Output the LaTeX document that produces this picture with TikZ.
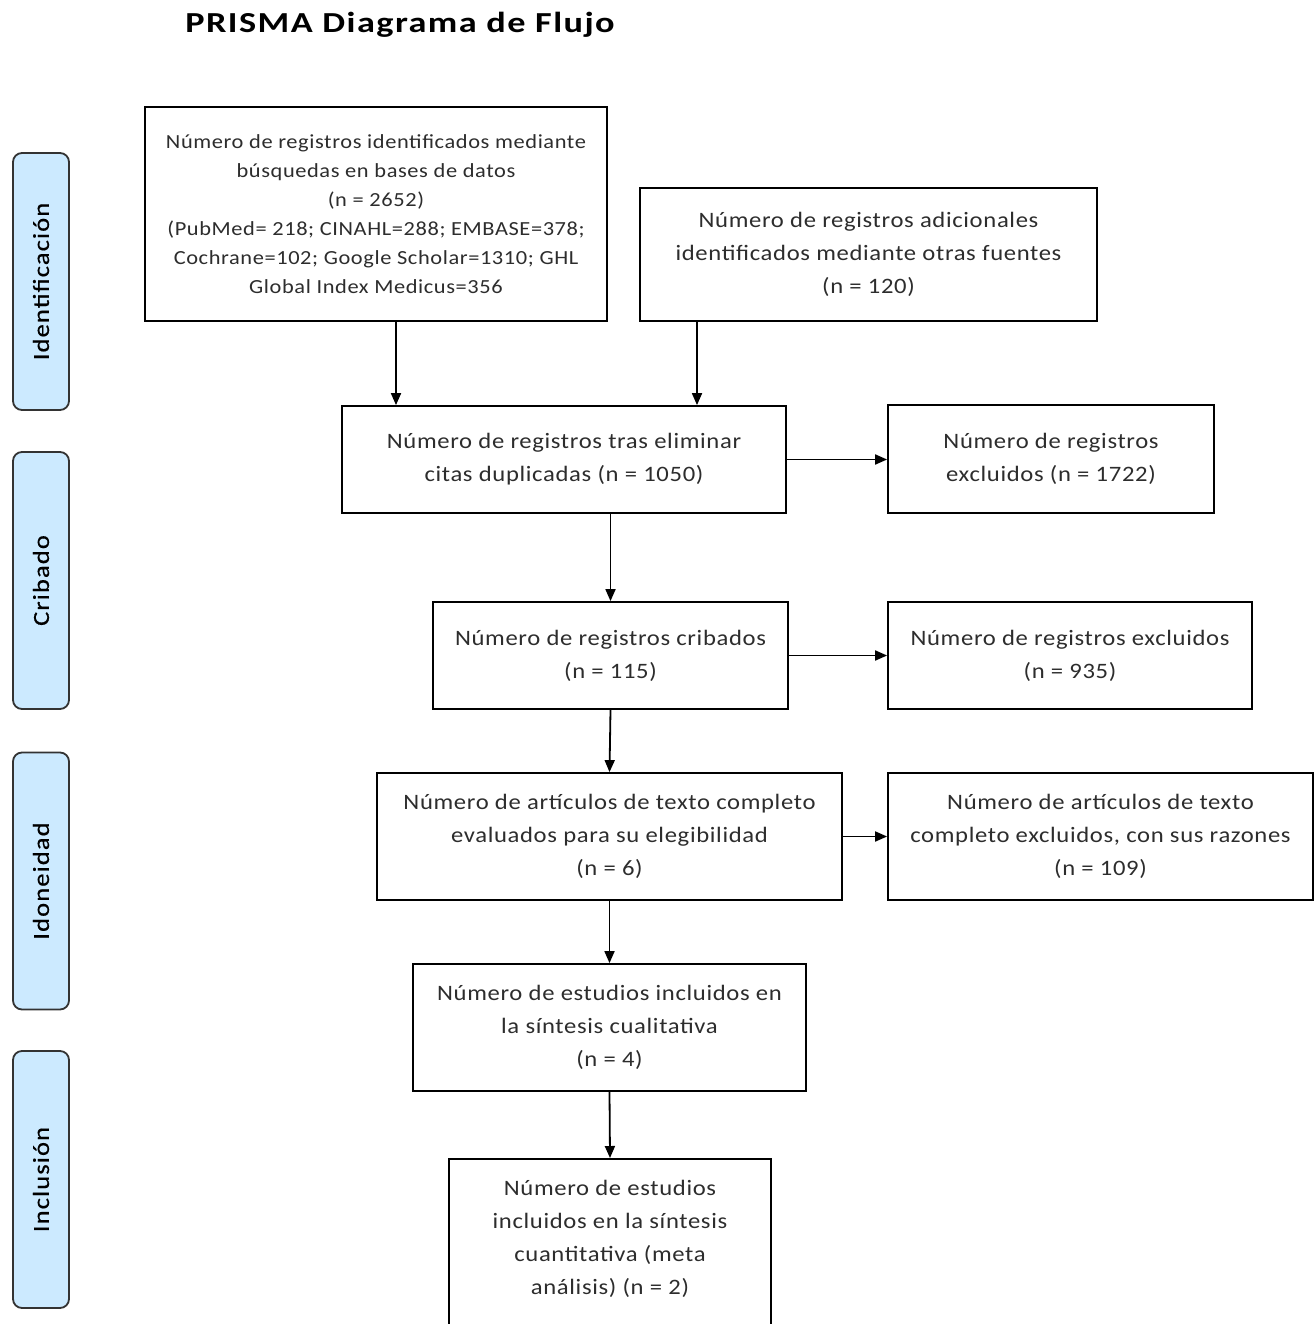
\documentclass[tikz,border=0pt]{standalone}
\usepackage{fontspec}
\setmainfont{Carlito}
\newfontfamily\bodyfont[FakeStretch=1.12,LetterSpace=3]{Carlito}
\newfontfamily\titlefont[FakeStretch=1.25,LetterSpace=5]{Carlito}
\newfontfamily\phasefont[FakeStretch=1.15,LetterSpace=5,FakeBold=0.6]{Carlito}
\usetikzlibrary{arrows.meta}
\definecolor{phaseblue}{RGB}{204,234,255}
\definecolor{txt}{RGB}{45,45,45}
\begin{document}
\begin{tikzpicture}[x=1pt,y=-1pt,
 box/.style={draw=black, line width=1.8pt, align=center, inner sep=0pt, text=txt,
   font=\bodyfont\fontsize{22}{33}\selectfont},
 phase/.style={draw=black!80, line width=1.8pt, fill=phaseblue, rounded corners=9pt,
   minimum width=257pt, minimum height=56pt, inner sep=0pt, rotate=90,
   font=\phasefont\fontsize{23}{26}\selectfont, text=black},
 conn/.style={line width=1.8pt, -{Triangle[length=12pt,width=10pt]}}]
\clip (0,0) rectangle (1314,1324);
\fill[white] (0,0) rectangle (1314,1324);

\node[font=\titlefont\fontsize{29}{34}\selectfont\bfseries, text=black] (title) at (400,25) {PRISMA Diagrama de Flujo};

\node[phase] (p1) at (41,281.5) {Identificación};
\node[phase] (p2) at (41,580.5) {Cribado};
\node[phase] (p3) at (41,881) {Idoneidad};
\node[phase] (p4) at (41,1179.5) {Inclusión};

\node[box, minimum width=462pt, minimum height=214pt, font=\bodyfont\fontsize{20}{29}\selectfont] (A) at (376,214)
 {Número de registros identificados mediante\\búsquedas en bases de datos\\(n = 2652)\\(PubMed= 218; CINAHL=288; EMBASE=378;\\Cochrane=102; Google Scholar=1310; GHL\\Global Index Medicus=356};
\node[box, minimum width=457pt, minimum height=133pt] (B) at (868.5,254.5)
 {Número de registros adicionales\\identificados mediante otras fuentes\\(n = 120)};
\node[box, minimum width=444pt, minimum height=107pt] (C) at (564,459.5)
 {Número de registros tras eliminar\\citas duplicadas (n = 1050)};
\node[box, minimum width=326pt, minimum height=108pt] (D) at (1051,459)
 {Número de registros\\excluidos (n = 1722)};
\node[box, minimum width=355pt, minimum height=107pt] (E) at (610.5,655.5)
 {Número de registros cribados\\(n = 115)};
\node[box, minimum width=364pt, minimum height=107pt] (F) at (1070,655.5)
 {Número de registros excluidos\\(n = 935)};
\node[box, minimum width=465pt, minimum height=127pt] (G) at (609.5,836.5)
 {Número de artículos de texto completo\\evaluados para su elegibilidad\\(n = 6)};
\node[box, minimum width=425pt, minimum height=127pt] (H) at (1100.5,836.5)
 {Número de artículos de texto\\completo excluidos, con sus razones\\(n = 109)};
\node[box, minimum width=393pt, minimum height=127pt] (I) at (609.5,1027.5)
 {Número de estudios incluidos en\\la síntesis cualitativa\\(n = 4)};
\node[box, minimum width=322pt, anchor=north, inner ysep=21pt] (J) at (610,1158)
 {Número de estudios\\incluidos en la síntesis\\cuantitativa (meta\\análisis) (n = 2)\\[40pt]\strut};

\coordinate (xa) at (396,0);
\coordinate (xb) at (697,0);
\draw[conn] (A.south -| xa) -- (C.north -| xa);
\draw[conn] (B.south -| xb) -- (C.north -| xb);
\draw[conn] (C.east) -- (C.east -| D.west);
\draw[conn] (C.south -| E.north) -- (E.north);
\draw[conn] (E.east) -- (E.east -| F.west);
\draw[conn] (E.south) -- (G.north);
\draw[conn] (G.east) -- (G.east -| H.west);
\draw[conn] (G.south) -- (I.north);
\draw[conn] (I.south) -- (J.north);
\end{tikzpicture}
\end{document}
